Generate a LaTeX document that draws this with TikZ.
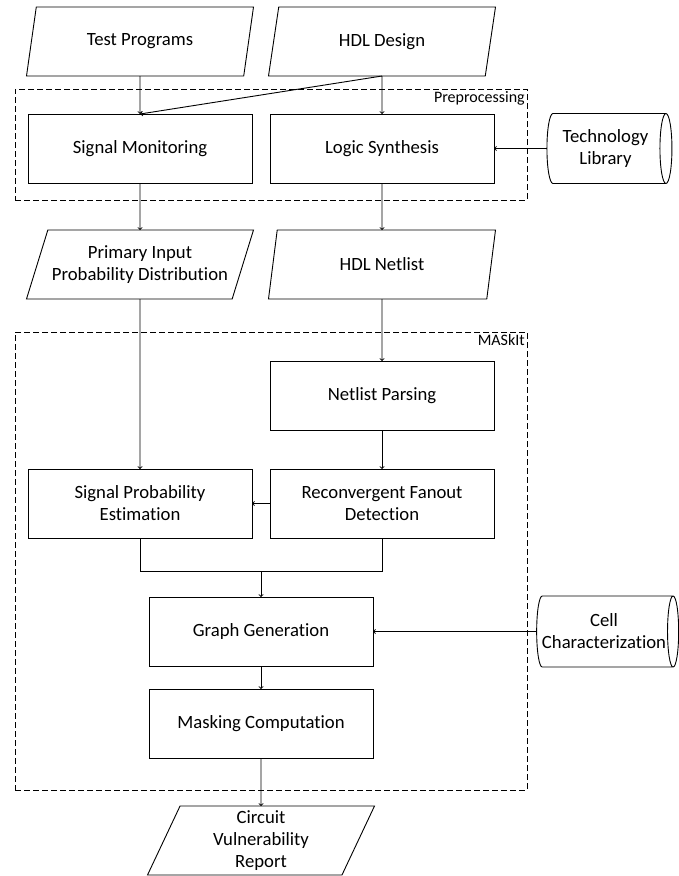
\documentclass[tikz,border=0pt]{standalone}
\usepackage{fontspec}
\setmainfont{Carlito}[Ligatures=NoCommon]
\usetikzlibrary{positioning,shapes.geometric,calc}

\begin{document}
\begin{tikzpicture}[x=1pt,y=-1pt,font=\fontsize{18.7}{22}\selectfont,>={To},
  data/.style={trapezium,trapezium left angle=63,trapezium right angle=117,trapezium stretches body,draw,line width=0.9pt,outer sep=0pt,minimum width=227pt,minimum height=69pt,align=center,inner xsep=-6pt,inner ysep=2pt},
  proc/.style={rectangle,draw,line width=0.9pt,outer sep=0pt,minimum width=224pt,minimum height=69pt,align=center},
  lib/.style={cylinder,shape aspect=0.3,draw,line width=0.9pt,outer sep=0pt,align=center,inner sep=1pt},
  grp/.style={rectangle,draw,dash pattern=on 6pt off 3pt,line width=0.8pt},
  tag/.style={font=\fontsize{16}{19}\selectfont,anchor=north east,inner sep=2.5pt},
  ar/.style={->,line width=0.9pt}]
\useasboundingbox[fill=white] (0,0) rectangle (678,876);
% inputs
\node[data](tp) at (140,41.5){Test Programs};
\node[data](hdl) at (382,41.5){HDL Design};
% preprocessing
\node[proc,below=38pt of tp](sm){Signal Monitoring};
\node[proc,below=38pt of hdl](ls){Logic Synthesis};
\node[lib,minimum width=70pt,minimum height=125pt](tl) at (ls -| 605.5,0){Technology\\Library};
\node[grp,minimum width=512pt,minimum height=111pt](pre) at (271,144.5){};
\node[tag](prel) at (pre.north east){Preprocessing};
\node[data,below=47pt of sm](pid){Primary Input\\Probability Distribution};
\node[data,below=47pt of ls](hn){HDL Netlist};
% MASkIt
\node[proc,below=62pt of hn](np){Netlist Parsing};
\node[proc,below=39pt of np](rfd){Reconvergent Fanout\\Detection};
\node[proc,left=18pt of rfd](spe){Signal Probability\\Estimation};
\coordinate (mj) at ($(spe.south)!0.5!(rfd.south)+(0,33)$);
\node[proc,below=26pt of mj](gg){Graph Generation};
\node[proc,below=23pt of gg](mc){Masking Computation};
\node[lib,minimum width=71pt,minimum height=142pt](cc) at (gg -| 604,0){Cell\\Characterization};
\node[grp,minimum width=512pt,minimum height=458pt](mas) at (271,561){};
\node[tag](masl) at (mas.north east){MASkIt};
\node[data,below=48pt of mc](cvr){Circuit\\Vulnerability\\Report};
\draw[ar](tp)--(sm);\draw[ar](hdl)--(ls);
\draw[ar](hdl.south)--(sm.north);
\draw[ar](tl)--(ls);
\draw[ar](sm)--(pid);\draw[ar](ls)--(hn);
\draw[ar](hn)--(np);\draw[ar](np)--(rfd);
\draw[ar](pid)--(spe);\draw[ar](rfd)--(spe);
\draw[line width=0.9pt](spe.south)|-(mj)-|(rfd.south);
\draw[ar](mj)--(gg);
\draw[ar](cc)--(gg);
\draw[ar](gg)--(mc);\draw[ar](mc)--(cvr);
\end{tikzpicture}
\end{document}
